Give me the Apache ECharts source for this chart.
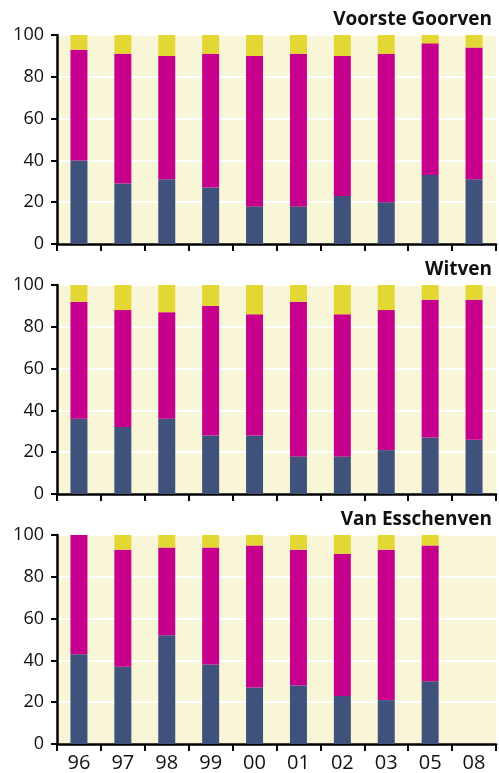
<!DOCTYPE html>
<html><head><meta charset="utf-8">
<script src="https://cdn.jsdelivr.net/npm/echarts@6/dist/echarts.min.js"></script>
<style>html,body{margin:0;padding:0;background:#fff}#c{width:499px;height:773px}</style>
</head><body><div id="c"></div>
<script>
const categories = ['96','97','98','99','00','01','02','03','05','08'];
const yTicks = [0,20,40,60,80,100];
const panelTitles = ['Voorste Goorven','Witven','Van Esschenven'];

const voorsteBlue    = [40,29,31,27,18,18,23,20,33,31];
const voorsteMagenta = [53,62,59,64,72,73,67,71,63,63];
const voorsteYellow  = [7,9,10,9,10,9,10,9,4,6];

const witvenBlue    = [36,32,36,28,28,18,18,21,27,26];
const witvenMagenta = [56,56,51,62,58,74,68,67,66,67];
const witvenYellow  = [8,12,13,10,14,8,14,12,7,7];

const esschenBlue    = [43,37,52,38,27,28,23,21,30,null];
const esschenMagenta = [57,56,42,56,68,65,68,72,65,null];
const esschenYellow  = [0,7,6,6,5,7,9,7,5,null];

const panels = [
  [voorsteBlue, voorsteMagenta, voorsteYellow],
  [witvenBlue, witvenMagenta, witvenYellow],
  [esschenBlue, esschenMagenta, esschenYellow]
];
const colors = ['#3F527C','#C6008C','#E2D733'];
const tops = [35, 285, 535];

const chart = echarts.init(document.getElementById('c'));
const grid = [], xAxis = [], yAxis = [], series = [], title = [];
tops.forEach((t, i) => {
  grid.push({left:57, right:3, top:t, height:209, show:true, backgroundColor:'#F9F6D8', borderWidth:0, containLabel:false});
  title.push({text:panelTitles[i], right:2, top:t-30, textStyle:{fontFamily:'Open Sans', fontWeight:'bold', fontSize:19, color:'#111'}});
  xAxis.push({type:'category', gridIndex:i, data:categories, boundaryGap:true,
    axisLine:{show:true, lineStyle:{color:'#000', width:2.5}},
    axisTick:{show:true, length:7, lineStyle:{color:'#000', width:2}},
    axisLabel:{show:i===2, fontFamily:'Open Sans', fontSize:20, color:'#111', margin:9},
    splitLine:{show:false}});
  yAxis.push({type:'value', gridIndex:i, min:0, max:100, interval:20,
    axisLine:{show:true, lineStyle:{color:'#000', width:2.5}},
    axisTick:{show:true, length:6, lineStyle:{color:'#000', width:2}},
    axisLabel:{fontFamily:'Open Sans', fontSize:18, color:'#111', margin:13,
      formatter: v => yTicks.includes(v) ? String(v) : ''},
    splitLine:{show:true, lineStyle:{color:'#fff', width:2}}});
  panels[i].forEach((d, k) => {
    series.push({type:'bar', xAxisIndex:i, yAxisIndex:i, stack:'s'+i, data:d, barWidth:17,
      itemStyle:{color:colors[k]}, silent:true, animation:false});
  });
});
chart.setOption({animation:false, title, grid, xAxis, yAxis, series});
</script></body></html>
